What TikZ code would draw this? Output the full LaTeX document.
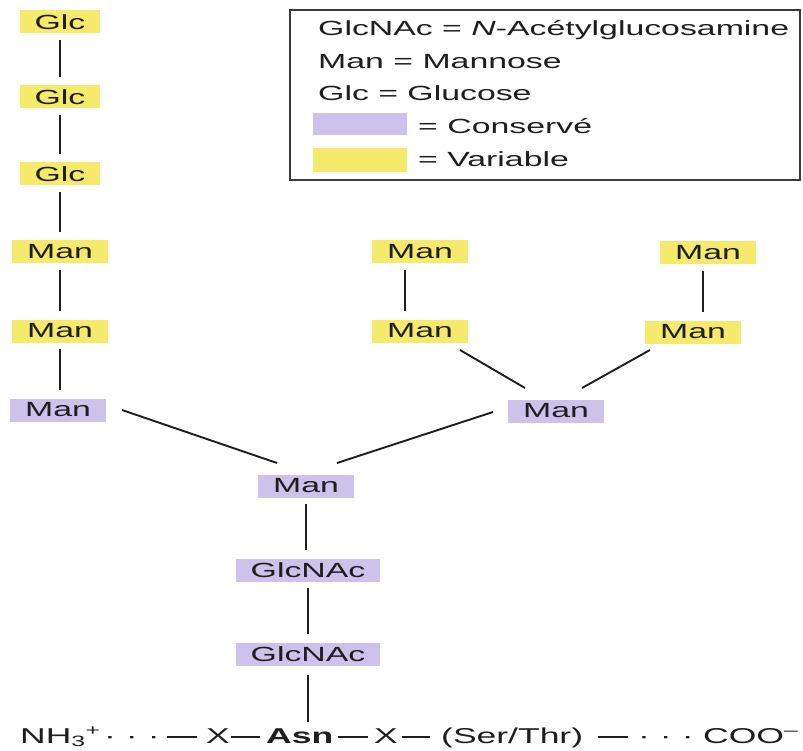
\documentclass[tikz,border=0pt]{standalone}
\usepackage{fontspec}
\setmainfont{Liberation Sans}[FakeStretch=1.65]
\usetikzlibrary{calc}
\definecolor{varcol}{HTML}{F6EA6C}
\definecolor{concol}{HTML}{CCC2EC}
\definecolor{inkcol}{HTML}{1E1E1E}
\definecolor{framecol}{HTML}{3A3A3A}
\newcommand\pepdash[1]{\rule[5.5pt]{#1}{1.5pt}}
\newcommand\pepdots{·\hspace{10pt}·\hspace{10pt}·}
\begin{document}
\begin{tikzpicture}[x=1pt,y=-1pt,
  font=\fontsize{20.5}{24}\selectfont,
  sugar/.style={inner xsep=15pt, inner ysep=0pt, minimum height=23pt, text=inkcol},
  var/.style={sugar, fill=varcol},
  con/.style={sugar, fill=concol},
  link/.style={draw=inkcol, line width=1.9pt},
  vlink/.style={link, shorten <=6pt, shorten >=8pt},
  legtext/.style={anchor=west, inner sep=0pt, text=inkcol},
  pep/.style={anchor=base west, inner sep=0pt, text=inkcol, font=\fontsize{21.5}{25}\selectfont}]
\useasboundingbox[fill=white] (0,0) rectangle (803,751);

% left column
\node[var] (glc1) at (60,22) {Glc};
\node[var] (glc2) at (60,97) {Glc};
\node[var] (glc3) at (60,174) {Glc};
\node[var] (manA1) at (60,252) {Man};
\node[var] (manA2) at (60,331) {Man};
\node[con] (manL) at (58,410) {Man};
% middle and right
\node[var] (manM1) at (420,252) {Man};
\node[var] (manM2) at (420,331) {Man};
\node[var] (manRt1) at (708,253) {Man};
\node[var] (manRt2) at (693,332) {Man};
\node[con] (manR) at (556,411) {Man};
% core
\node[con] (manC) at (306,486) {Man};
\node[con] (gn1) at (308,570) {GlcNAc};
\node[con] (gn2) at (308,654) {GlcNAc};

% peptide
\node[pep] (p1) at (20,743) {NH\textsubscript{3}\textsuperscript{+}};
\node[pep] (p2) at (104,743) {\pepdots};
\node[pep] (p3) at (167,743) {\pepdash{30pt}};
\node[pep] (p4) at (206,743) {X};
\node[pep] (p5) at (231,743) {\pepdash{29pt}};
\node[pep] (asn) at (266,743) {\textbf{Asn}};
\node[pep] (p7) at (338,743) {\pepdash{30pt}};
\node[pep] (p8) at (374,743) {X};
\node[pep] (p9) at (402,743) {\pepdash{28pt}};
\node[pep] (p10) at (441,743) {(Ser/Thr)};
\node[pep] (p11) at (598,743) {\pepdash{30pt}};
\node[pep] (p12) at (638,743) {\pepdots};
\node[pep] (p13) at (703,743) {COO\textsuperscript{–}};

% vertical links
\draw[vlink] (glc1.south) -- (glc2.north);
\draw[vlink] (glc2.south) -- (glc3.north);
\draw[vlink] (glc3.south) -- (manA1.north);
\draw[vlink] (manA1.south) -- (manA2.north);
\draw[vlink] (manA2.south) -- (manL.north -| manA2.south);
\draw[vlink] ([xshift=-15pt]manM1.south) -- ([xshift=-15pt]manM1.south |- manM2.north);
\draw[vlink] ([xshift=-5pt]manRt1.south) -- ([xshift=-5pt]manRt1.south |- manRt2.north);
\draw[vlink] (manC.south) -- (gn1.north -| manC.south);
\draw[vlink] (gn1.south) -- (gn2.north);
\draw[link, shorten <=9pt, shorten >=6pt] (gn2.south) -- (gn2.south |- asn.north);

% branch links
\draw[link] ($(manL)+(64,0)$) -- ($(manC)+(-29,-23)$);
\draw[link] ($(manR)+(-63,1)$) -- ($(manC)+(31,-23)$);
\draw[link] ($(manM2)+(40,19)$) -- ($(manR)+(-31,-23)$);
\draw[link] ($(manRt2)+(-43,18)$) -- ($(manR)+(26,-23)$);

% legend
\draw[draw=framecol, line width=1.8pt] (290,10) rectangle (800,180);
\node[legtext] (l1) at (318,30) {GlcNAc = \textit{N}-Acétylglucosamine};
\node[legtext] (l2) at (318,62) {Man = Mannose};
\node[legtext] (l3) at (318,93) {Glc = Glucose};
\fill[concol] (313,113) rectangle (407,135);
\fill[varcol] (313,148) rectangle (407,172);
\node[legtext] (l4) at (418,126) {= Conservé};
\node[legtext] (l5) at (418,159) {= Variable};
\end{tikzpicture}
\end{document}
